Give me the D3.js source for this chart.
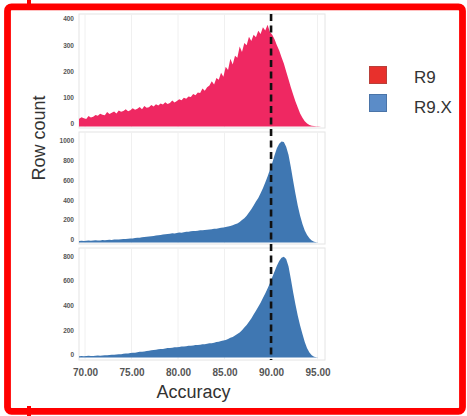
<!DOCTYPE html>
<html><head><meta charset="utf-8">
<script src="https://cdn.jsdelivr.net/npm/d3@7"></script>
<style>html,body{margin:0;padding:0;background:#fff;}svg{display:block;}</style>
</head><body>
<svg id="chart" width="467" height="416"></svg>
<script>
// ---- data (bin start = 69.25, bin width 0.25) ----
const binStart = 69.25;
const binWidth = 0.25;
const seriesNames = ["R9", "R9.X"];
const r9Counts = [30,35,31,29,40,34,37,44,41,49,45,43,55,48,52,57,50,61,56,59,66,58,62,70,64,68,74,66,78,71,73,82,76,85,80,88,84,92,86,90,99,91,97,104,100,110,106,114,112,124,119,130,128,145,136,150,156,172,160,185,178,205,190,228,215,258,236,270,262,305,284,318,310,342,326,350,340,365,352,378,366,388,360,350,332,310,290,264,240,210,180,150,122,95,72,50,33,20,11,6,3,2,1,1,0,0];
const r9xCounts1 = [15,18,16,17,20,18,19,22,20,21,24,23,25,27,26,29,31,30,33,36,35,38,41,40,44,48,47,52,56,57,61,64,65,70,74,75,80,84,85,89,92,91,96,100,99,104,108,108,112,115,116,119,122,122,126,129,130,134,138,139,143,148,150,156,162,166,174,183,192,207,225,244,270,302,334,372,412,448,496,545,602,664,732,800,878,948,992,1015,1010,962,882,760,620,490,370,270,185,120,75,42,20,8,3,1,0,0];
const r9xCounts2 = [10,12,11,12,14,13,13,15,16,15,17,19,18,20,23,22,25,27,27,30,33,33,36,39,39,42,46,46,49,53,54,58,61,62,66,69,70,73,77,77,80,83,83,86,89,89,92,95,95,98,101,101,104,107,108,111,115,116,120,125,127,133,139,143,151,160,167,178,191,204,222,243,264,291,317,349,379,413,444,483,519,561,604,651,699,746,784,810,818,800,742,640,530,430,340,260,190,125,75,40,18,7,3,1,0,0];
const xTicks = [70, 75, 80, 85, 90, 95];
const yTicks1 = [0, 100, 200, 300, 400];
const yTicks2 = [0, 200, 400, 600, 800, 1000];
const yTicks3 = [0, 200, 400, 600, 800];
const threshold = 90;

const svg = d3.select("#chart");
const pink = "#ef2862", blue = "#3f77b2";

// outer red frame
svg.append("rect").attr("x",27).attr("y",0).attr("width",4).attr("height",10).attr("fill","#ff0000");
svg.append("rect").attr("x",27).attr("y",406).attr("width",4).attr("height",10).attr("fill","#ff0000");
svg.append("rect").attr("x",7.5).attr("y",6.8).attr("width",455).attr("height",404.5).attr("rx",4)
  .attr("fill","none").attr("stroke","#ff0000").attr("stroke-width",6.8);

const x = d3.scaleLinear().domain([69.35, 95.8]).range([79, 325]);

const panels = [
  {data: r9Counts,  color: pink, top: 14,  bottom: 128, y: d3.scaleLinear().domain([0,400]).range([126.5,21.5]), ticks: yTicks1},
  {data: r9xCounts1, color: blue, top: 132, bottom: 244, y: d3.scaleLinear().domain([0,1000]).range([242.5,143]), ticks: yTicks2},
  {data: r9xCounts2, color: blue, top: 248, bottom: 360, y: d3.scaleLinear().domain([0,800]).range([357.5,259]), ticks: yTicks3}
];

panels.forEach((p, i) => {
  const g = svg.append("g");
  g.append("rect").attr("x", x.range()[0]).attr("y", p.top)
    .attr("width", x.range()[1]-x.range()[0]).attr("height", p.bottom-p.top)
    .attr("fill","#fff").attr("stroke","#e4e4e4").attr("stroke-width",1);
  // vertical grid lines
  g.selectAll("line.grid").data(xTicks).join("line").attr("class","grid")
    .attr("x1", d=>x(d)).attr("x2", d=>x(d)).attr("y1", p.top).attr("y2", p.bottom)
    .attr("stroke","#f0f0f0").attr("stroke-width",1);
  const clipId = "clip"+i;
  svg.append("clipPath").attr("id", clipId).append("rect")
    .attr("x", x.range()[0]).attr("y", p.top).attr("width", x.range()[1]-x.range()[0]).attr("height", p.bottom-p.top);
  const pts = p.data.map((c, k) => ({v: binStart + (k+0.5)*binWidth, c}));
  pts.unshift({v: binStart, c: p.data[0]});
  pts.push({v: binStart + p.data.length*binWidth, c: 0});
  const area = d3.area().curve(d3.curveLinear)
    .x(d => x(d.v)).y0(p.y(0)).y1(d => p.y(d.c));
  g.append("path").datum(pts).attr("d", area).attr("fill", p.color)
    .attr("clip-path", `url(#${clipId})`);
  // y axis labels
  const ax = d3.axisLeft(p.y).tickValues(p.ticks).tickFormat(d3.format("d")).tickSize(0).tickPadding(0);
  const ag = g.append("g").attr("transform","translate(74,0)").call(ax);
  ag.select(".domain").remove();
  ag.selectAll("text").attr("font-family","Liberation Sans, Arial, sans-serif")
    .attr("font-size", 6.5).attr("font-weight","bold").attr("fill","#555").attr("dy","-0.1em");
});

// x axis labels
const xa = d3.axisBottom(x).tickValues(xTicks).tickFormat(d3.format(".2f")).tickSize(0).tickPadding(0);
const xg = svg.append("g").attr("transform","translate(0,368)").call(xa);
xg.select(".domain").remove();
xg.selectAll("text").attr("font-family","Liberation Sans, Arial, sans-serif")
  .attr("font-size",10).attr("font-weight","bold").attr("fill","#555").attr("dy","0.75em");

// threshold dashed line
svg.append("line").attr("x1", x(threshold)).attr("x2", x(threshold))
  .attr("y1", 14).attr("y2", 360).attr("stroke","#111").attr("stroke-width",2.6)
  .attr("stroke-dasharray","7,4.5");

// axis titles
svg.append("text").attr("transform","translate(45,138) rotate(-90)").attr("text-anchor","middle")
  .attr("font-family","Liberation Sans, Arial, sans-serif").attr("font-size",18).attr("fill","#333")
  .text("Row count");
svg.append("text").attr("x",193.5).attr("y",398).attr("text-anchor","middle")
  .attr("font-family","Liberation Sans, Arial, sans-serif").attr("font-size",18).attr("fill","#333")
  .text("Accuracy");

// legend
const legendColors = ["#e8302c", "#5b8cc8"];
const legendStroke = ["#b8403a", "#4a74a8"];
const lg = svg.append("g");
seriesNames.forEach((name, i) => {
  lg.append("rect").attr("x",369.5).attr("y",66.5 + i*28).attr("width",17).attr("height",17)
    .attr("fill",legendColors[i]).attr("stroke",legendStroke[i]).attr("stroke-width",1);
  lg.append("text").attr("x",414).attr("y",82.5 + i*30)
    .attr("font-family","Liberation Sans, Arial, sans-serif").attr("font-size",17).attr("fill","#333")
    .text(name);
});
</script>
</body></html>
